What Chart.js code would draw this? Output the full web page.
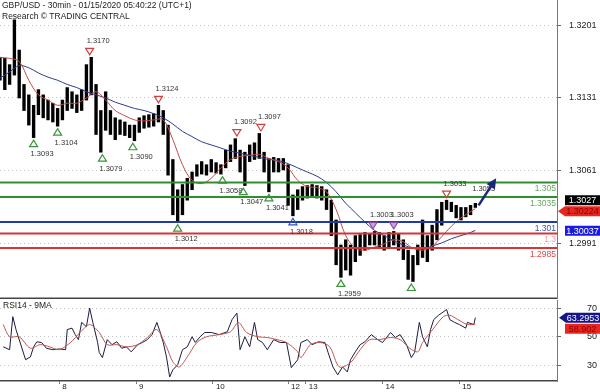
<!DOCTYPE html>
<html>
<head>
<meta charset="utf-8">
<script src="https://cdn.jsdelivr.net/npm/chart.js@4.4.1/dist/chart.umd.min.js"></script>
<style>
  body { margin: 0; background: #fff; }
  canvas { display: block; }
</style>
</head>
<body>
<canvas id="price" width="600" height="299"></canvas>
<canvas id="rsi" width="600" height="93"></canvas>
<script>
// time axis: bar number (30min bars) of each day separator
const dayIdx = [37, 85, 133, 180, 191, 239, 287];
const dayLabels = ['8', '9', '10', '12', '13', '14', '15'];

const priceTicks = [1.3201, 1.3131, 1.3061, 1.2991];
const rsiTicks = [70, 50, 30];

// price columns, one every 3 bars
const barIdx = [0, 3, 6, 9, 12, 15, 18, 21, 24, 27, 30, 33, 36, 39, 42, 45, 48, 51, 54, 57,
  60, 63, 66, 69, 72, 75, 78, 81, 84, 87, 90, 93, 96, 99, 102, 105, 108, 111, 114, 117,
  120, 123, 126, 129, 132, 135, 138, 141, 144, 147, 150, 153, 156, 159, 162, 165, 168, 171, 174, 177,
  180, 183, 186, 189, 192, 195, 198, 201, 204, 207, 210, 213, 216, 219, 222, 225, 228, 231, 234, 237,
  240, 243, 246, 249, 252, 255, 258, 261, 264, 267, 270, 273, 276, 279, 282, 285, 288, 291, 294, 297];
const highs = [1.3170, 1.3169, 1.3163, 1.3206, 1.3177, 1.3144, 1.3134, 1.3124, 1.3139, 1.3134,
  1.3129, 1.3126, 1.3121, 1.3129, 1.3141, 1.3137, 1.3134, 1.3139, 1.3163, 1.3170,
  1.3144, 1.3119, 1.3137, 1.3119, 1.3112, 1.3110, 1.3108, 1.3105, 1.3105, 1.3112,
  1.3114, 1.3115, 1.3116, 1.3124, 1.3119, 1.3105, 1.3072, 1.3043, 1.3048, 1.3054,
  1.3060, 1.3067, 1.3070, 1.3067, 1.3072, 1.3069, 1.3067, 1.3081, 1.3086, 1.3092,
  1.3081, 1.3079, 1.3086, 1.3088, 1.3097, 1.3079, 1.3073, 1.3074, 1.3073, 1.3073,
  1.3067, 1.3038, 1.3043, 1.3046, 1.3047, 1.3048, 1.3047, 1.3046, 1.3043, 1.3033,
  1.3014, 1.2990, 1.2995, 1.2990, 1.2999, 1.3000, 1.3002, 1.3001, 1.3003, 1.3002,
  1.2999, 1.3002, 1.3003, 1.3001, 1.2995, 1.2985, 1.2980, 1.2990, 1.3014, 1.2999,
  1.3009, 1.3024, 1.3031, 1.3033, 1.3031, 1.3028, 1.3026, 1.3026, 1.3028, 1.3030];
const lows = [1.3148, 1.3139, 1.3144, 1.3153, 1.3131, 1.3119, 1.3105, 1.3093, 1.3115, 1.3112,
  1.3110, 1.3108, 1.3104, 1.3110, 1.3119, 1.3121, 1.3117, 1.3119, 1.3129, 1.3134,
  1.3096, 1.3079, 1.3100, 1.3096, 1.3091, 1.3096, 1.3095, 1.3093, 1.3090, 1.3098,
  1.3102, 1.3103, 1.3104, 1.3108, 1.3096, 1.3057, 1.3019, 1.3012, 1.3019, 1.3033,
  1.3043, 1.3056, 1.3058, 1.3057, 1.3060, 1.3059, 1.3058, 1.3064, 1.3070, 1.3073,
  1.3060, 1.3047, 1.3070, 1.3072, 1.3073, 1.3060, 1.3041, 1.3060, 1.3060, 1.3062,
  1.3028, 1.3018, 1.3024, 1.3033, 1.3035, 1.3036, 1.3035, 1.3033, 1.3024, 1.2999,
  1.2971, 1.2959, 1.2966, 1.2961, 1.2974, 1.2980, 1.2985, 1.2990, 1.2990, 1.2987,
  1.2985, 1.2987, 1.2990, 1.2985, 1.2976, 1.2957, 1.2955, 1.2971, 1.2978, 1.2974,
  1.2985, 1.2995, 1.3009, 1.3024, 1.3022, 1.3016, 1.3014, 1.3017, 1.3019, 1.3026];

// moving averages read every 6 bars
const maIdx = [0, 6, 12, 18, 24, 30, 36, 42, 48, 54, 60, 66, 72, 78, 84, 90, 96, 102, 108, 114,
  120, 126, 132, 138, 144, 150, 156, 162, 168, 174, 180, 186, 192, 198, 204, 210, 216, 222, 228, 234,
  240, 246, 252, 258, 264, 270, 276, 282, 288, 294, 297];
const maFast = [1.3170, 1.3169, 1.3166, 1.3148, 1.3134, 1.3129, 1.3124, 1.3126, 1.3126, 1.3131,
  1.3137, 1.3129, 1.3119, 1.3114, 1.3110, 1.3109, 1.3110, 1.3110, 1.3091, 1.3067,
  1.3052, 1.3049, 1.3054, 1.3064, 1.3072, 1.3075, 1.3076, 1.3077, 1.3073, 1.3070,
  1.3064, 1.3052, 1.3046, 1.3045, 1.3041, 1.3024, 1.2999, 1.2987, 1.2985, 1.2988,
  1.2991, 1.2995, 1.2993, 1.2987, 1.2985, 1.2989, 1.2998, 1.3008, 1.3016, 1.3022, 1.3025];
const maSlow = [1.3150, 1.3156, 1.3162, 1.3160, 1.3155, 1.3151, 1.3148, 1.3144, 1.3141, 1.3137,
  1.3134, 1.3131, 1.3127, 1.3124, 1.3121, 1.3119, 1.3116, 1.3112, 1.3106, 1.3099,
  1.3094, 1.3089, 1.3086, 1.3083, 1.3080, 1.3078, 1.3076, 1.3074, 1.3072, 1.3071,
  1.3068, 1.3064, 1.3060, 1.3056, 1.3050, 1.3041, 1.3030, 1.3021, 1.3012, 1.3004,
  1.2999, 1.2994, 1.2990, 1.2987, 1.2986, 1.2989, 1.2992, 1.2996, 1.2999, 1.3002, 1.3004];

// support / resistance levels
const levelValues = [1.3050, 1.3036, 1.3012, 1.3001, 1.2987];
const levelLabels = ['1.305', '1.3035', '1.301', '1.3', '1.2985'];

// swing markers
const lowMarkIdx = [21, 36, 64, 83, 111, 139, 152, 168, 183, 213, 257];
const lowMarkPrice = [1.3093, 1.3104, 1.3079, 1.3090, 1.3012, 1.3058, 1.3047, 1.3041, 1.3018, 1.2959, 1.2955];
const lowMarkText = ['1.3093', '1.3104', '1.3079', '1.3090', '1.3012', '1.3058', '1.3047', '1.3041', '1.3018', '1.2959', ''];
const highMarkIdx = [56, 99, 148, 163, 233, 246, 279];
const highMarkPrice = [1.3170, 1.3124, 1.3092, 1.3097, 1.3003, 1.3003, 1.3033];
const highMarkText = ['1.3170', '1.3124', '1.3092', '1.3097', '1.3003', '1.3003', '1.3033'];

// projected move
const arrowFrom = [299, 1.3028];
const arrowTo = [310, 1.3054];
const targetText = '1.3055';
const targetAt = [295, 1.3044];

const lastPrice = 1.3027;
const bidPrice = 1.30224;
const refPrice = 1.30037;

// RSI 14 and its 9 period average
const rsiIdx = [2, 6, 8, 10, 16, 19, 21, 23, 26, 29, 33, 37, 41, 42, 45, 47, 49, 51, 54, 56,
  58, 61, 62, 64, 67, 70, 73, 76, 79, 82, 86, 89, 92, 95, 98, 100, 102, 104, 106, 108,
  111, 114, 117, 120, 122, 125, 128, 132, 137, 142, 145, 148, 150, 153, 156, 159, 161, 164, 167, 171,
  175, 179, 182, 186, 188, 192, 195, 199, 203, 205, 208, 211, 214, 217, 219, 222, 225, 228, 232, 236,
  239, 244, 247, 250, 254, 257, 259, 262, 264, 267, 269, 271, 274, 276, 279, 281, 284, 287, 291, 292, 296, 297];
const rsiVal = [43, 41, 64, 55, 34, 36, 43, 46.5, 46, 42, 41, 41.5, 41, 55, 56, 51.5, 48, 60, 57, 70,
  60, 46, 39, 35.5, 48, 44.5, 46.5, 42, 43, 39.5, 44.5, 46, 48, 51.5, 60, 53.5, 46, 36, 22, 27,
  30.5, 41, 43, 50, 46, 50, 53, 53, 51.5, 53.5, 62, 66.5, 41, 50, 43, 60, 48, 46, 41, 48,
  46, 46, 28.5, 34, 46, 48, 44.5, 46.5, 46, 39, 29, 23.5, 29, 25.5, 34, 39.5, 44.5, 46.5, 51.5, 48,
  46, 53, 49.5, 51.5, 44.5, 35.5, 39, 60, 50, 43, 55, 62, 65, 66.5, 69, 62, 60, 58.5, 56, 60, 58.5, 63.3];
const rsiMaIdx = [2, 6, 12, 19, 25, 31, 37, 44, 50, 56, 62, 67, 73, 79, 86, 92, 98, 104, 108, 112,
  117, 123, 129, 137, 144, 149, 154, 161, 167, 173, 179, 186, 188, 194, 200, 206, 212, 219, 225, 231,
  237, 244, 250, 256, 261, 264, 271, 277, 281, 286, 292, 297];
const rsiMaVal = [58.5, 50, 50, 42, 44.5, 43, 41, 46, 53, 58.5, 53, 44.5, 44.5, 43, 44.5, 49.5, 55, 43, 32.5, 29,
  36, 46, 50, 51.5, 53.5, 60, 53, 50, 49.5, 48, 46, 39.5, 35.5, 44.5, 46, 43, 29, 32, 41, 48,
  48, 49.5, 48, 42, 39.5, 46, 56, 64, 65, 62, 58.5, 58.9];
const rsiLast = '63.2953';
const rsiMaLast = '58.902';

const FONT = "'Liberation Sans', Arial, sans-serif";
const font = size => size + 'px ' + FONT;

const levelColors = ['#2f8f2f', '#2f8f2f', '#1d3ca8', '#d83434', '#d83434'];
const levelTextColors = ['#63a863', '#63a863', '#3553b5', '#ee9a9a', '#d84848'];

function triangle(ctx, cx, cy, up, stroke, fill) {
  ctx.beginPath();
  if (up) {
    ctx.moveTo(cx, cy - 3.5); ctx.lineTo(cx + 4, cy + 3); ctx.lineTo(cx - 4, cy + 3);
  } else {
    ctx.moveTo(cx - 4, cy - 3); ctx.lineTo(cx + 4, cy - 3); ctx.lineTo(cx, cy + 3.5);
  }
  ctx.closePath();
  if (fill) { ctx.fillStyle = fill; ctx.fill(); }
  ctx.strokeStyle = stroke;
  ctx.lineWidth = 1.2;
  ctx.stroke();
}

function tag(ctx, left, right, cy, fill, color, text, pointer) {
  const top = cy - 5, bottom = cy + 5;
  ctx.beginPath();
  if (pointer) {
    ctx.moveTo(left, cy); ctx.lineTo(left + 7, top); ctx.lineTo(right, top);
    ctx.lineTo(right, bottom); ctx.lineTo(left + 7, bottom);
  } else {
    ctx.rect(left, top, right - left, bottom - top);
  }
  ctx.closePath();
  ctx.fillStyle = fill;
  ctx.fill();
  ctx.fillStyle = color;
  ctx.font = font(9);
  ctx.textAlign = 'center';
  ctx.textBaseline = 'middle';
  ctx.fillText(text, pointer ? (left + 7 + right) / 2 : (left + right) / 2, cy + 0.5);
}

const mainDecor = {
  id: 'mainDecor',
  afterDatasetsDraw(chart) {
    const {ctx, chartArea: a, scales: {x, y}} = chart;
    ctx.save();
    // levels
    levelValues.forEach((v, i) => {
      const py = y.getPixelForValue(v);
      ctx.strokeStyle = levelColors[i];
      ctx.lineWidth = 2;
      ctx.beginPath(); ctx.moveTo(a.left, py); ctx.lineTo(a.right, py); ctx.stroke();
      ctx.fillStyle = levelTextColors[i];
      ctx.font = font(8.5);
      ctx.textAlign = 'right';
      ctx.textBaseline = 'middle';
      ctx.fillText(levelLabels[i], a.right - 1, py + 6.5);
    });
    // swing markers
    ctx.font = font(7.5);
    ctx.textAlign = 'left';
    ctx.textBaseline = 'middle';
    lowMarkIdx.forEach((b, i) => {
      const px = x.getPixelForValue(b), py = y.getPixelForValue(lowMarkPrice[i]);
      triangle(ctx, px, py + 6, true, lowMarkText[i] === '1.3018' ? '#2f55a8' : '#3a963a');
      ctx.fillStyle = '#333';
      ctx.fillText(lowMarkText[i], px - 3, py + 16.5);
    });
    highMarkIdx.forEach((b, i) => {
      const px = x.getPixelForValue(b), py = y.getPixelForValue(highMarkPrice[i]);
      const purple = highMarkText[i] === '1.3003';
      triangle(ctx, px, py - 6, false, purple ? '#8a4a9e' : '#d04040', purple ? '#c9a3d8' : null);
      ctx.fillStyle = '#333';
      ctx.fillText(highMarkText[i], px - 3, py - 16.5);
    });
    // target text and arrow
    ctx.fillText(targetText, x.getPixelForValue(targetAt[0]), y.getPixelForValue(targetAt[1]));
    const x0 = x.getPixelForValue(arrowFrom[0]), y0 = y.getPixelForValue(arrowFrom[1]);
    const x1 = x.getPixelForValue(arrowTo[0]), y1 = y.getPixelForValue(arrowTo[1]);
    const ang = Math.atan2(y1 - y0, x1 - x0);
    ctx.strokeStyle = '#1b2878';
    ctx.fillStyle = '#1b2878';
    ctx.lineWidth = 2.5;
    ctx.beginPath();
    ctx.moveTo(x0, y0);
    ctx.lineTo(x1 - 7 * Math.cos(ang), y1 - 7 * Math.sin(ang));
    ctx.stroke();
    ctx.beginPath();
    ctx.moveTo(x1, y1);
    ctx.lineTo(x1 - 10 * Math.cos(ang) + 5 * Math.sin(ang), y1 - 10 * Math.sin(ang) - 5 * Math.cos(ang));
    ctx.lineTo(x1 - 10 * Math.cos(ang) - 5 * Math.sin(ang), y1 - 10 * Math.sin(ang) + 5 * Math.cos(ang));
    ctx.closePath();
    ctx.fill();
    ctx.restore();
  },
  afterDraw(chart) {
    const {ctx, chartArea: a, scales: {y}} = chart;
    ctx.save();
    ctx.strokeStyle = '#444';
    ctx.lineWidth = 1.5;
    ctx.beginPath(); ctx.moveTo(a.left, a.bottom - 0.75); ctx.lineTo(a.right, a.bottom - 0.75); ctx.stroke();

    ctx.fillStyle = '#222';
    ctx.font = font(8.5);
    ctx.textAlign = 'left';
    ctx.textBaseline = 'middle';
    ctx.fillText('GBP/USD - 30min - 01/15/2020 05:40:22 (UTC+1)', 2, 6);
    ctx.fillText('Research \u00a9 TRADING CENTRAL', 2, 16.5);

    const redY = y.getPixelForValue(bidPrice);
    tag(ctx, a.right + 1, chart.width, redY, '#e8261e', '#8a0000', bidPrice.toFixed(5), true);
    tag(ctx, a.right + 8, chart.width, redY - 11, '#000', '#fff', lastPrice.toFixed(4), false);
    tag(ctx, a.right + 8, chart.width, y.getPixelForValue(refPrice), '#1a1ae0', '#fff', refPrice.toFixed(5), false);
    ctx.restore();
  }
};

const rsiDecor = {
  id: 'rsiDecor',
  afterDraw(chart) {
    const {ctx, chartArea: a, scales: {y}} = chart;
    ctx.save();
    ctx.fillStyle = '#222';
    ctx.font = font(8.5);
    ctx.textAlign = 'left';
    ctx.textBaseline = 'middle';
    ctx.fillText('RSI14 - 9MA', 3, a.top + 6);
    const navyY = y.getPixelForValue(parseFloat(rsiLast));
    tag(ctx, a.right + 2, chart.width, navyY, '#15158a', '#fff', rsiLast, true);
    tag(ctx, a.right + 8, chart.width, navyY + 11, '#e8261e', '#8a0000', rsiMaLast, false);
    ctx.restore();
  }
};

// keep the plot area where the picture has it: no label overhang padding
const noOverhang = s => {
  s.paddingTop = 0; s.paddingBottom = 0; s.paddingLeft = 0; s.paddingRight = 0;
};

const yAxisRight = (min, max, ticks, fmt, pad) => ({
  position: 'right',
  min: min,
  max: max,
  afterFit: s => { s.width = 43; noOverhang(s); },
  afterBuildTicks: s => { s.ticks = ticks.map(v => ({value: v})); },
  ticks: {callback: fmt, font: {family: FONT, size: 9}, color: '#222', padding: pad},
  grid: {color: '#c4c4c4', tickColor: '#666', tickLength: 4, tickBorderDash: []},
  border: {display: true, color: '#777', width: 1, dash: [1, 3]}
});

new Chart(document.getElementById('price'), {
  type: 'bar',
  data: {
    datasets: [
      {
        type: 'line', order: 1,
        data: maIdx.map((b, i) => ({x: b, y: maFast[i]})),
        borderColor: '#c24c45', borderWidth: 1, pointRadius: 0, tension: 0.35
      },
      {
        type: 'line', order: 2,
        data: maIdx.map((b, i) => ({x: b, y: maSlow[i]})),
        borderColor: '#2c3c8c', borderWidth: 1, pointRadius: 0, tension: 0.35
      },
      {
        type: 'bar', order: 3,
        data: barIdx.map((b, i) => ({x: b, y: [lows[i], highs[i]]})),
        backgroundColor: '#000', barThickness: 2.7
      }
    ]
  },
  options: {
    responsive: false,
    animation: false,
    events: [],
    layout: {padding: 0},
    plugins: {legend: {display: false}, tooltip: {enabled: false}},
    scales: {
      x: {type: 'linear', min: 0, max: 348, display: false, offset: false, grid: {offset: false}},
      y: yAxisRight(1.29382, 1.3225, priceTicks, v => v.toFixed(4), 8)
    }
  },
  plugins: [mainDecor]
});

new Chart(document.getElementById('rsi'), {
  type: 'line',
  data: {
    datasets: [
      {
        data: rsiMaIdx.map((b, i) => ({x: b, y: rsiMaVal[i]})),
        borderColor: '#c0564c', borderWidth: 1, pointRadius: 0, tension: 0.3
      },
      {
        data: rsiIdx.map((b, i) => ({x: b, y: rsiVal[i]})),
        borderColor: '#1c1c40', borderWidth: 1, pointRadius: 0, tension: 0
      }
    ]
  },
  options: {
    responsive: false,
    animation: false,
    events: [],
    layout: {padding: {top: 1}},
    plugins: {legend: {display: false}, tooltip: {enabled: false}},
    scales: {
      x: {
        type: 'linear', min: 0, max: 348,
        afterFit: s => { s.height = 11; noOverhang(s); },
        afterBuildTicks: s => { s.ticks = dayIdx.map(v => ({value: v})); },
        ticks: {
          callback: (v, i) => dayLabels[i], autoSkip: false, maxRotation: 0,
          align: 'start', labelOffset: 3, padding: -2,
          font: {family: FONT, size: 8}, color: '#222'
        },
        grid: {drawOnChartArea: false, tickLength: 3, color: '#777'},
        border: {display: true, color: '#444', width: 1.5}
      },
      y: yAxisRight(19.2, 75.6, rsiTicks, v => String(v), 26)
    }
  },
  plugins: [rsiDecor]
});
</script>
</body>
</html>
